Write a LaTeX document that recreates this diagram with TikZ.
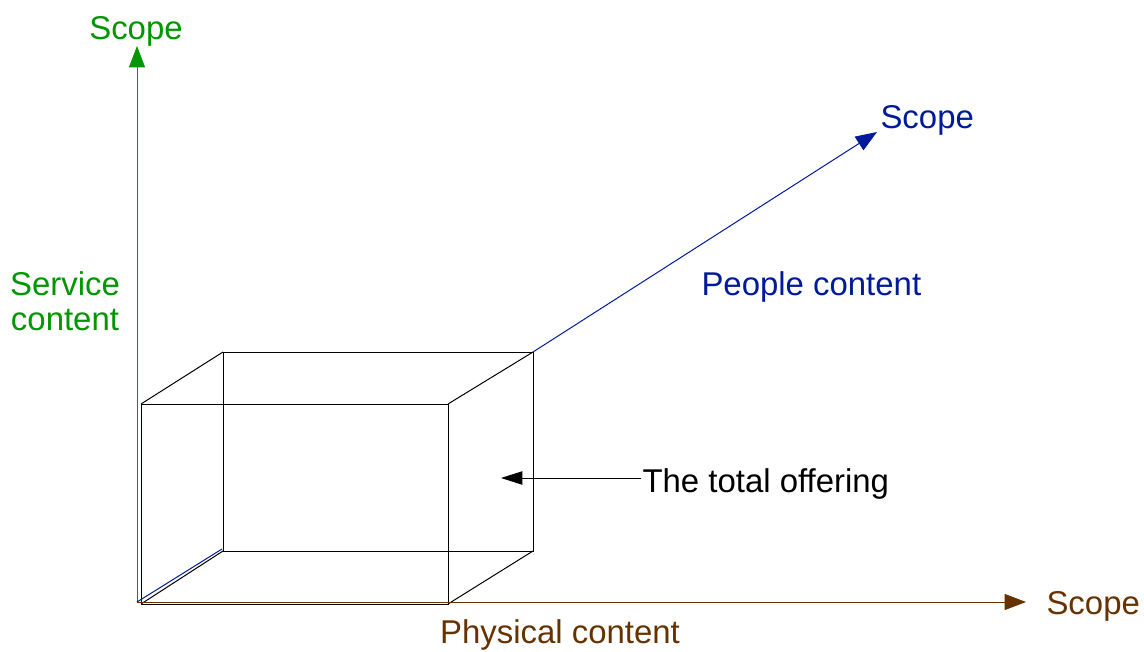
\documentclass[tikz,border=0pt]{standalone}
\usepackage{fontspec}
\setmainfont{Liberation Sans}
\usetikzlibrary{arrows.meta}
\tikzset{every picture/.style={line width=0.75pt}}
\definecolor{scopegreen}{RGB}{0,150,0}
\definecolor{scopeblue}{RGB}{0,26,153}
\definecolor{scopebrown}{RGB}{102,51,0}
\tikzset{
  axis text/.style={inner sep=0.75pt, font=\fontsize{24.7}{26.5}\selectfont},
  axis tip/.style={-{Triangle[length=16pt,width=12pt]}},
}

\begin{document}
\begin{tikzpicture}[x=0.75pt,y=0.75pt,yscale=-1,xscale=1]
\useasboundingbox (0,0) rectangle (1144,652);

% Corners of the box and axis ends
\coordinate (O) at (137,602);
\coordinate (ftl) at (141,404);
\coordinate (ftr) at (448,404);
\coordinate (fbr) at (448,604);
\coordinate (fbl) at (141,604);
\coordinate (btl) at (223,352);
\coordinate (btr) at (533,352);
\coordinate (bbr) at (533,551);
\coordinate (bbl) at (223,551);
\coordinate (zin) at (222,549);
\coordinate (ytip) at (137,46);
\coordinate (ztip) at (877,132);
\coordinate (xtip) at (1026,602);
\coordinate (offertip) at (501,478);

%Shape: Rectangle (front)
\draw (ftl) -- (ftr) -- (fbr) -- (fbl) -- cycle ;
%Shape: Rectangle (back)
\draw (btl) -- (btr) -- (bbr) -- (bbl) -- cycle ;
%Straight Lines (edges)
\draw (ftl) -- (btl) ;
\draw (ftr) -- (btr) ;
\draw (fbr) -- (bbr) ;
\draw (fbl) -- (bbl) ;

%Straight Lines (service axis)
\draw [scopegreen, axis tip] (O) -- (ytip) ;
%Straight Lines (people axis)
\draw [scopeblue] (O) -- (zin) ;
\draw [scopeblue, axis tip] (btr) -- (ztip) ;
%Straight Lines (physical axis)
\draw [scopebrown, axis tip] (O) -- (xtip) ;

% Text Node
\node [axis text, scopegreen] (yname) at (136,31) {Scope};
% Text Node
\node [axis text, scopegreen, align=center] (ylabel) at (65,301) {Service\\content};
% Text Node
\node [axis text, scopeblue, anchor=west] (zname) at (879,120) {Scope};
% Text Node
\node [axis text, scopeblue, anchor=west] (zlabel) at (700,287) {People content};
% Text Node
\node [axis text, scopebrown, anchor=west] (xname) at (1045,606) {Scope};
% Text Node
\node [axis text, scopebrown] (xlabel) at (560,635) {Physical content};
% Text Node
\node [axis text, anchor=west] (offer) at (641,484) {The total offering};

%Straight Lines (pointer)
\draw [-{Triangle[length=16pt,width=10pt]}] (offer.west |- offertip) -- (offertip) ;

\end{tikzpicture}
\end{document}
